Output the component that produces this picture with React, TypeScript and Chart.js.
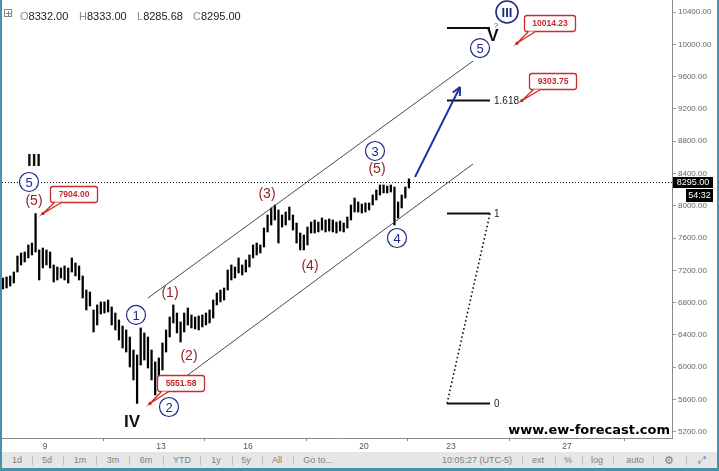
import React, { useEffect, useRef } from "react";
import { Chart, registerables } from "chart.js";

Chart.register(...registerables);

const FONT = '"Liberation Sans", Arial, sans-serif';

// ---------- data ----------
const firstBarDay = 7.55;
const barStepDays = 0.125; // 3-hour bars
const barLows = [
  6970, 6982, 7007, 7044, 7180, 7267, 7304, 7354, 7391, 7428,
  7081, 7230, 7267, 7230, 7056, 7081, 7106, 7081, 7044, 7180,
  7131, 7081, 6858, 6710, 6759, 6437, 6524, 6660, 6672, 6685,
  6524, 6462, 6338, 6239, 6189, 6004, 5843, 5552, 6028, 6090,
  5991, 5843, 5657, 5806, 5966, 6189, 6375, 6549, 6425, 6313,
  6437, 6524, 6487, 6474, 6462, 6499, 6524, 6549, 6610, 6772,
  6809, 6833, 6957, 7081, 7106, 7168, 7143, 7180, 7242, 7354,
  7391, 7415, 7490, 7676, 7762, 7824, 7539, 7737, 7762, 7824,
  7700, 7539, 7453, 7453, 7515, 7663, 7663, 7676, 7700, 7676,
  7688, 7676, 7663, 7688, 7676, 7725, 7824, 7923, 7923, 7911,
  7923, 7948, 8010, 8072, 8134, 8159, 8159, 8171, 7762, 7849,
  7973, 8097, 8220,
];
const barHighs = [
  7106, 7118, 7131, 7180, 7378, 7415, 7428, 7515, 7539, 7904,
  7453, 7477, 7453, 7428, 7267, 7242, 7230, 7255, 7230, 7354,
  7292, 7255, 7131, 6957, 6932, 6710, 6772, 6809, 6809, 6833,
  6747, 6672, 6586, 6511, 6462, 6375, 6214, 6152, 6487, 6425,
  6375, 6214, 6066, 6115, 6301, 6462, 6623, 6772, 6672, 6561,
  6672, 6734, 6648, 6623, 6635, 6648, 6672, 6710, 6833, 6920,
  6957, 6982, 7205, 7267, 7242, 7354, 7267, 7329, 7391, 7515,
  7539, 7515, 7725, 7886, 7973, 8010, 7948, 7886, 7923, 7985,
  7886, 7787, 7663, 7638, 7737, 7799, 7824, 7799, 7849, 7824,
  7837, 7824, 7799, 7812, 7787, 7861, 8010, 8097, 8047, 8022,
  8035, 8035, 8134, 8196, 8258, 8258, 8245, 8258, 8233, 8047,
  8134, 8233, 8333,
];
const dayTicks = [9, 13, 16, 20, 23, 27];
const priceTicks = [5200, 5600, 6000, 6400, 6800, 7200, 7600, 8000, 8400, 8800, 9200, 9600, 10000, 10400];
const lastPrice = 8295;
const countdownText = "54:32";
const ohlcLetters = ["O", "H", "L", "C"];
const ohlcValues = ["8332.00", "8333.00", "8285.68", "8295.00"];

// annotations (day, price)
const channelUpper = [[12.552, 6858], [23.759, 9793]];
const channelLower = [[12.621, 5558], [23.759, 8518]];
const forecastArrow = [[21.759, 8357], [23.31, 9471]];
const fibDays = [22.862, 24.345];
const fibNames = ["1.618", "1", "0"];
const fibPrices = [9303.75, 7904, 5551.58];
const targetLevel = 10202;
const calloutTexts = ["10014.23", "9303.75", "7904.00", "5551.58"];
const calloutDays = [25.276, 25.448, 8.931, 12.621];
const calloutPrices = [10014.23, 9303.75, 7904, 5551.58];
const waveTexts = ["III", "5", "(5)", "1", "(1)", "(2)", "2", "IV", "(3)", "(4)", "3", "(5)", "4", "5", "III", "V"];
const waveKinds = ["major", "circle", "minor", "circle", "minor", "minor", "circle", "major", "minor", "minor", "circle", "minor", "circle", "circle", "bigcircle", "major"];
const waveDays = [8.621, 8.448, 8.621, 12.138, 13.31, 13.966, 13.276, 12.0, 16.655, 18.138, 20.379, 20.448, 21.138, 24.0, 24.931, 24.448];
const wavePrices = [8555, 8295, 8059, 6648, 6920, 6140, 5508, 5323, 8146, 7254, 8679, 8456, 7601, 9954, 10400, 10103];
const watermark = "www.ew-forecast.com";

const X_MIN = 7.5172;
const X_MAX = 30.6207;
const Y_MIN = 5124;
const Y_MAX = 10549;

const NAVY = "#1d2a86";
const WAVE_RED = "#962323";
const CALLOUT_RED = "#cc2b2b";

function seg(ctx: CanvasRenderingContext2D, x1: number, y1: number, x2: number, y2: number) {
  ctx.beginPath();
  ctx.moveTo(x1, y1);
  ctx.lineTo(x2, y2);
  ctx.stroke();
}

const overlayPlugin = {
  id: "overlay",
  afterDatasetsDraw(chart: any) {
    const ctx: CanvasRenderingContext2D = chart.ctx;
    const ca = chart.chartArea;
    const xs = chart.scales.x;
    const ys = chart.scales.y;
    const X = (d: number) => xs.getPixelForValue(d);
    const Y = (p: number) => ys.getPixelForValue(p);
    ctx.save();

    // last price dotted line
    const ly = Math.round(Y(lastPrice)) + 0.5;
    ctx.strokeStyle = "#111";
    ctx.lineWidth = 1;
    ctx.setLineDash([1, 2]);
    seg(ctx, ca.left, ly, ca.right, ly);
    ctx.setLineDash([]);

    // channel
    ctx.strokeStyle = "#4a4a4a";
    ctx.lineWidth = 1;
    for (const s of [channelUpper, channelLower]) {
      seg(ctx, X(s[0][0]), Y(s[0][1]), X(s[1][0]), Y(s[1][1]));
    }

    // fib levels
    const fx0 = X(fibDays[0]);
    const fx1 = X(fibDays[1]);
    ctx.strokeStyle = "#111";
    ctx.lineWidth = 2;
    [...fibPrices, targetLevel].forEach((p) => seg(ctx, fx0, Y(p), fx1, Y(p)));
    ctx.lineWidth = 1.6;
    ctx.setLineDash([1.6, 2.6]);
    seg(ctx, fx0, Y(fibPrices[2]), fx1, Y(fibPrices[1]));
    ctx.setLineDash([]);
    ctx.fillStyle = "#222";
    ctx.font = `10px ${FONT}`;
    ctx.textBaseline = "middle";
    ctx.textAlign = "left";
    fibNames.forEach((n, i) => ctx.fillText(n, fx1 + 4, Y(fibPrices[i]) + 0.5));

    // forecast arrow
    const ax0 = X(forecastArrow[0][0]), ay0 = Y(forecastArrow[0][1]);
    const ax1 = X(forecastArrow[1][0]), ay1 = Y(forecastArrow[1][1]);
    ctx.strokeStyle = "#2031a6";
    ctx.lineWidth = 2;
    seg(ctx, ax0, ay0, ax1, ay1);
    const ang = Math.atan2(ay1 - ay0, ax1 - ax0);
    const hl = 9;
    for (const da of [0.45, -0.45]) {
      seg(ctx, ax1, ay1, ax1 - hl * Math.cos(ang + da), ay1 - hl * Math.sin(ang + da));
    }

    // callouts
    calloutTexts.forEach((t, i) => {
      const cx = X(calloutDays[i]);
      const cy = Y(calloutPrices[i]);
      ctx.font = `bold 8.5px ${FONT}`;
      const w = Math.round(ctx.measureText(t).width + 16);
      const h = 16;
      const bx = Math.round(cx + 7) + 0.5;
      const by = Math.round(cy - 28) + 0.5;
      ctx.fillStyle = "#fff";
      ctx.strokeStyle = CALLOUT_RED;
      ctx.lineWidth = 1.3;
      ctx.beginPath();
      ctx.roundRect(bx, by, w, h, 2.5);
      ctx.fill();
      ctx.stroke();
      ctx.beginPath();
      ctx.moveTo(bx + 4, by + h);
      ctx.lineTo(cx, cy);
      ctx.lineTo(bx + 11, by + h);
      ctx.closePath();
      ctx.fill();
      ctx.beginPath();
      ctx.moveTo(bx + 4, by + h);
      ctx.lineTo(cx, cy);
      ctx.lineTo(bx + 11, by + h);
      ctx.stroke();
      ctx.fillStyle = CALLOUT_RED;
      ctx.beginPath();
      ctx.arc(cx, cy, 1.7, 0, Math.PI * 2);
      ctx.fill();
      ctx.fillStyle = "#c62828";
      ctx.textAlign = "center";
      ctx.textBaseline = "middle";
      ctx.fillText(t, bx + w / 2, by + h / 2 + 0.5);
    });

    // wave labels
    waveTexts.forEach((t, i) => {
      const px = X(waveDays[i]);
      const py = Y(wavePrices[i]);
      const k = waveKinds[i];
      ctx.textAlign = "center";
      ctx.textBaseline = "middle";
      if (k === "circle" || k === "bigcircle") {
        const r = k === "circle" ? 9.5 : 11;
        ctx.fillStyle = "#fff";
        ctx.strokeStyle = NAVY;
        ctx.lineWidth = k === "circle" ? 1.2 : 1.6;
        ctx.beginPath();
        ctx.arc(px, py, r, 0, Math.PI * 2);
        ctx.fill();
        ctx.stroke();
        ctx.fillStyle = NAVY;
        ctx.font = k === "circle" ? `13px ${FONT}` : `bold 13px ${FONT}`;
        ctx.fillText(t, px, py + 1);
      } else if (k === "minor") {
        ctx.fillStyle = WAVE_RED;
        ctx.font = `14px ${FONT}`;
        ctx.fillText(t, px, py + 0.5);
      } else {
        ctx.fillStyle = "#111";
        ctx.font = `bold 17px ${FONT}`;
        ctx.fillText(t, px, py + 0.5);
      }
    });
    ctx.fillStyle = "#444";
    ctx.font = `7px ${FONT}`;
    ctx.fillText("?", X(24.552), Y(10227));

    // watermark
    ctx.fillStyle = "#000";
    ctx.font = `bold 13px "DejaVu Sans", Verdana, sans-serif`;
    ctx.textAlign = "right";
    ctx.textBaseline = "alphabetic";
    ctx.fillText(watermark, ca.right - 2, ca.bottom - 4);

    ctx.restore();
  },
  afterDraw(chart: any) {
    const ctx: CanvasRenderingContext2D = chart.ctx;
    const ca = chart.chartArea;
    const py = Math.round(chart.scales.y.getPixelForValue(lastPrice));
    ctx.save();
    ctx.fillStyle = "#000";
    ctx.fillRect(ca.right + 1, py - 5, 40, 11);
    ctx.fillRect(ca.right + 14, py + 7, 27, 13);
    ctx.fillStyle = "#fff";
    ctx.font = `9px ${FONT}`;
    ctx.textAlign = "center";
    ctx.textBaseline = "middle";
    ctx.fillText(lastPrice.toFixed(2), ca.right + 21, py + 0.5);
    ctx.fillText(countdownText, ca.right + 27.5, py + 13.5);
    ctx.restore();
  },
};

const leftTools: [string, number][] = [["1d", 17], ["5d", 47], ["1m", 80], ["3m", 113], ["6m", 146], ["YTD", 182], ["1y", 216], ["5y", 246], ["All", 277], ["Go to...", 318]];
const leftSeps = [32, 63, 96, 129, 163, 200, 232, 262, 293];
const rightTools: [string, number][] = [["10:05:27 (UTC-5)", 477], ["ext", 538], ["%", 568], ["log", 597], ["auto", 635], ["\u2699", 669]];
const rightSeps = [522, 555, 582, 613, 653, 686];
const headerX = [20, 79, 137, 193];

function zeroPad(s: any) {
  s.paddingTop = 0;
  s.paddingBottom = 0;
  s.paddingLeft = 0;
  s.paddingRight = 0;
}

export default function App() {
  const ref = useRef<HTMLCanvasElement>(null);
  useEffect(() => {
    const data = barLows.map((lo, i) => ({ x: firstBarDay + i * barStepDays, y: [lo, barHighs[i]] }));
    const chart = new Chart(ref.current as HTMLCanvasElement, {
      type: "bar",
      data: {
        datasets: [
          {
            data: data as any,
            backgroundColor: "#000",
            borderWidth: 0,
            barThickness: 1.6,
            grouped: false,
          } as any,
        ],
      },
      options: {
        animation: false,
        responsive: false,
        maintainAspectRatio: false,
        layout: { padding: 0 },
        plugins: { legend: { display: false }, tooltip: { enabled: false } },
        scales: {
          x: {
            type: "linear",
            position: "bottom",
            min: X_MIN,
            max: X_MAX,
            offset: false,
            afterBuildTicks: (s: any) => {
              s.ticks = dayTicks.map((v) => ({ value: v }));
            },
            afterFit: (s: any) => {
              s.height = 14;
              zeroPad(s);
            },
            ticks: {
              color: "#555",
              font: { size: 8.5, family: FONT },
              padding: 1,
              maxRotation: 0,
              autoSkip: false,
              callback: (v: any) => String(v),
            },
            grid: { drawOnChartArea: false, drawTicks: true, tickLength: 3, color: "#888" },
            border: { display: true, color: "#8a8a8a" },
          },
          y: {
            type: "linear",
            position: "right",
            min: Y_MIN,
            max: Y_MAX,
            afterBuildTicks: (s: any) => {
              s.ticks = priceTicks.map((v) => ({ value: v }));
            },
            afterFit: (s: any) => {
              s.width = 45;
              zeroPad(s);
            },
            ticks: {
              color: "#666",
              font: { size: 8, family: FONT },
              padding: 2,
              autoSkip: false,
              callback: (v: any) => Number(v).toFixed(2),
            },
            grid: { drawOnChartArea: false, drawTicks: true, tickLength: 4, color: "#999" },
            border: { display: true, color: "#8a8a8a" },
          },
        },
      } as any,
      plugins: [overlayPlugin as any],
    });
    return () => chart.destroy();
  }, []);

  const tb: React.CSSProperties = {
    position: "absolute",
    top: 0,
    lineHeight: "16px",
    fontSize: 9,
    color: "#808080",
    transform: "translateX(-50%)",
    whiteSpace: "nowrap",
  };
  const sep = (x: number, k: string) => (
    <div key={k} style={{ position: "absolute", left: x, top: 4, width: 1, height: 9, background: "#bdbdbd" }} />
  );

  return (
    <div style={{ position: "absolute", left: 0, top: 0, width: 719, height: 471, background: "#fff", overflow: "hidden", fontFamily: FONT }}>
      <canvas ref={ref} width={715} height={452} style={{ position: "absolute", left: 2, top: 0, width: 715, height: 452 }} />
      <div style={{ position: "absolute", left: 4, top: 9, width: 8, height: 8, border: "1px solid #888", boxSizing: "border-box" }}>
        <div style={{ position: "absolute", left: 3, top: 1, width: 1, height: 5, background: "#888" }} />
        <div style={{ position: "absolute", left: 1, top: 3, width: 5, height: 1, background: "#888" }} />
      </div>
      {ohlcLetters.map((l, i) => (
        <div key={l} style={{ position: "absolute", left: headerX[i], top: 10, fontSize: 11, lineHeight: "12px", whiteSpace: "nowrap" }}>
          <span style={{ color: "#8c8c8c" }}>{l}</span>
          <span style={{ color: "#222" }}>{ohlcValues[i]}</span>
        </div>
      ))}
      <div style={{ position: "absolute", left: 2, top: 452, width: 715, height: 16, background: "#e6e6e6" }}>
        {leftTools.map(([t, x]) => (
          <div key={t} style={{ ...tb, left: x - 2 }}>{t}</div>
        ))}
        {leftSeps.map((x, i) => sep(x - 2, "l" + i))}
        {rightTools.map(([t, x]) => (
          <div key={t} style={{ ...tb, left: x - 2, fontSize: t === "\u2699" ? 11 : 9 }}>{t}</div>
        ))}
        {rightSeps.map((x, i) => sep(x - 2, "r" + i))}
        <div style={{ ...tb, left: 700, color: "#3a8fc0", fontSize: 10, fontFamily: '"DejaVu Sans", sans-serif' }}>{"\u2922"}</div>
      </div>
      <div style={{ position: "absolute", left: 0, top: 0, width: 2, height: 471, background: "#4a8fb0" }} />
      <div style={{ position: "absolute", left: 717, top: 0, width: 2, height: 471, background: "#4a8fb0" }} />
      <div style={{ position: "absolute", left: 0, top: 468, width: 719, height: 3, background: "#4a8fb0" }} />
    </div>
  );
}
